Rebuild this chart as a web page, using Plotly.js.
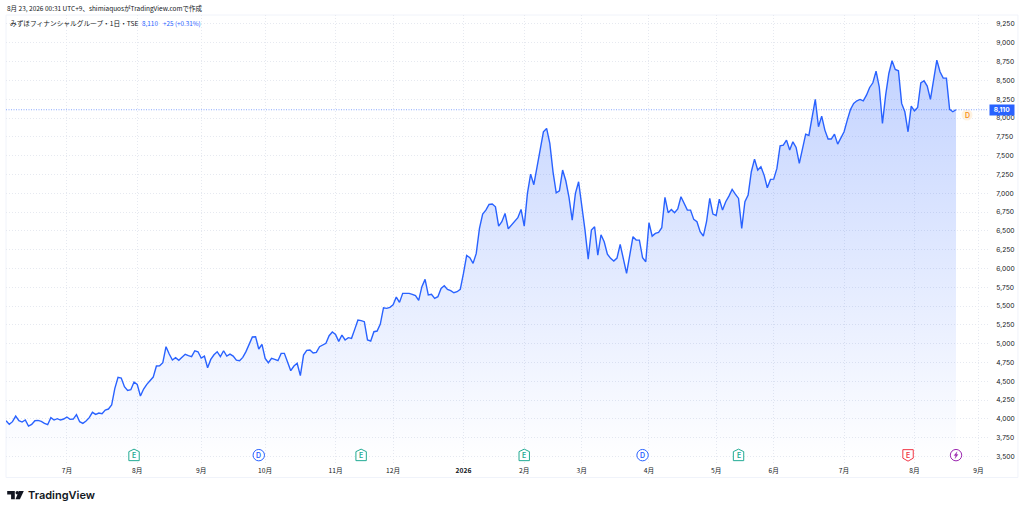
<!DOCTYPE html>
<html><head><meta charset="utf-8">
<script src="https://cdn.plot.ly/plotly-3.0.1.min.js"></script>
<style>html,body{margin:0;padding:0;background:#fff}</style></head>
<body><div id="chart" style="width:1024px;height:512px"></div>
<script>
const closes = [3976,3927,3963,4038,3976,3958,3985,3905,3927,3976,3980,3967,3941,3923,4016,3985,4003,3985,3998,4025,3994,3998,4056,3963,3941,3972,4016,4087,4060,4078,4069,4118,4131,4184,4406,4552,4543,4428,4379,4388,4490,4459,4304,4397,4459,4508,4556,4703,4707,4747,4960,4862,4782,4813,4778,4818,4858,4840,4827,4906,4893,4809,4835,4680,4791,4853,4893,4827,4906,4835,4862,4835,4782,4773,
4818,4894,4996,5089,5093,4929,4991,4805,4747,4805,4792,4774,4871,4871,4756,4641,4703,4739,4575,4849,4911,4916,4876,4885,4960,4987,5004,5106,5155,5124,5031,5115,5049,5080,5071,5190,5314,5306,5292,5049,5035,5159,5168,5261,5478,5470,5483,5518,5620,5549,5669,5669,5669,5656,5638,5576,5758,5855,5647,5656,5602,5625,
5735,5770,5722,5704,5677,5691,5722,5934,6174,6143,6067,6200,6532,6723,6776,6851,6856,6820,6563,6621,6732,6528,6577,6621,6674,6785,6563,6998,7254,7113,7352,7551,7817,7861,7662,7285,7006,7033,7308,7166,6944,6643,6998,7153,6842,6510,6125,6510,6555,6178,6448,6355,6191,6134,6098,6138,6320,6134,5934,6178,6422,6377,6377,6143,6089,6608,6430,6466,6479,6541,6944,6741,
6785,6741,6790,6953,6865,6776,6776,6652,6621,6488,6431,6621,6931,6723,6705,6922,6776,6887,6962,7051,6989,6931,6533,6887,6976,7286,7454,7308,7352,7241,7073,7184,7188,7330,7631,7640,7706,7574,7684,7609,7396,
7596,7786,7768,8016,8247,7884,8025,7839,7720,7720,7786,7653,7737,7817,7972,8114,8194,8229,8247,8229,8304,8406,8468,8623,8415,7928,8304,8592,8761,8645,8628,8194,8083,7817,8158,8096,8140,8468,8495,8424,8247,8526,8770,8615,8530,8530,8114,8083,8110];
const tradingDays = closes.map((_, i) => i);
const monthTickDays = [19,41,61,81,103,121,143,162,180,201,222,240,262,284,304];
const monthLabels = ['7月','8月','9月','10月','11月','12月','<b>2026</b>','2月','3月','4月','5月','6月','7月','8月','9月'];
const priceTicks = [3500,3750,4000,4250,4500,4750,5000,5250,5500,5750,6000,6250,6500,6750,7000,7250,7500,7750,8000,8250,8500,8750,9000,9250];
const priceLabels = ['3,500','3,750','4,000','4,250','4,500','4,750','5,000','5,250','5,500','5,750','6,000','6,250','6,500','6,750','7,000','7,250','7,500','7,750','8,000','8,250','8,500','8,750','9,000','9,250'];
const lastPrice = 8110;
const eventDays = [40,79,111,162,199,229,282,297];
const eventKinds = ['E','D','E','E','D','E','R','S'];
const createdText = '8月 23, 2026 00:31 UTC+9、shimiaquosがTradingView.comで作成';
const symbolText = 'みずほフィナンシャルグループ・1日・TSE';
const changeText = '+25 (+0.31%)';

const JP = '"Noto Sans CJK JP","Noto Sans",sans-serif';
const TXT = '#131722', BLUE = '#2962ff', GREEN = '#22ab94', RED = '#f23645', PURPLE = '#9c27b0', GRID = '#e6e9f0';
const eventY = 3518;
const colorOf = {E:GREEN, D:BLUE, R:RED, S:PURPLE};
const shapes = [
  {type:'rect', xref:'paper', yref:'paper', x0:0, x1:1.0305, y0:-0.0324, y1:1, line:{color:'#f0f3fa', width:1}, layer:'below'},
  {type:'line', xref:'paper', yref:'y', x0:0, x1:1, y0:lastPrice, y1:lastPrice, line:{color:BLUE, width:1, dash:'1px,1.5px'}, opacity:0.55}
];
const annos = [];
const txt = (x, yPx, text, color, size, anchor) => annos.push({xref:'paper', yref:'paper', x:(x-5.5)/982.5, y:(463-yPx)/448, text,
  showarrow:false, xanchor:anchor||'left', yanchor:'middle', font:{family:JP, size, color}});
eventDays.forEach((d, i) => {
  const k = eventKinds[i], c = colorOf[k];
  const common = {xref:'x', yref:'y', xsizemode:'pixel', ysizemode:'pixel', xanchor:d, yanchor:eventY, fillcolor:'rgba(255,255,255,0.9)', line:{color:c, width:1}, layer:'above'};
  if (k === 'E') shapes.push({...common, type:'path', path:'M-5.2,-5.5 L5.2,-5.5 L5.2,3.5 L0,6 L-5.2,3.5 Z'});
  else if (k === 'R') shapes.push({...common, type:'path', path:'M-5.2,5.5 L5.2,5.5 L5.2,-3 L0,-6 L-5.2,-3 Z'});
  else shapes.push({...common, type:'circle', x0:-5.7, x1:5.7, y0:-5.7, y1:5.7});
  if (k === 'S') shapes.push({...common, fillcolor:c, line:{color:c, width:0.3}, type:'path', path:'M1,3.4 L-2,-0.4 L-0.3,-0.4 L-1,-3.4 L2,0.6 L0.3,0.6 Z'});
  else annos.push({xref:'x', yref:'y', x:d, y:eventY, text:k === 'R' ? 'E' : k, showarrow:false, xanchor:'center', yanchor:'middle', font:{family:'Inter,sans-serif', size:7, color:c, weight:600}});
});
annos.push({xref:'paper', yref:'y', x:(967-5.5)/982.5, y:8040, text:'D', showarrow:false, xanchor:'center', yanchor:'middle', font:{family:'Inter,sans-serif', size:7, color:'#f7931a', weight:600}});
shapes.push({type:'circle', xref:'paper', yref:'y', xsizemode:'pixel', ysizemode:'pixel', xanchor:(967-5.5)/982.5, yanchor:8040, x0:-5.5, x1:5.5, y0:-5.5, y1:5.5, fillcolor:'rgba(255,152,0,0.12)', line:{width:0}, layer:'below'});
annos.push({xref:'paper', yref:'y', x:(1002-5.5)/982.5, y:lastPrice, text:'<b>8,110</b>', showarrow:false, xanchor:'center', yanchor:'middle', bgcolor:BLUE, width:24, height:9.5, borderpad:0, font:{family:'Inter,sans-serif', size:6.6, color:'#fff'}});
txt(4.5, 7.7, createdText, TXT, 6.5);
txt(8, 23, symbolText, TXT, 6.7);
txt(140, 23, '8,110', BLUE, 6.4);
txt(161, 23, changeText, BLUE, 6.3);
const lg = {xref:'paper', yref:'paper', xsizemode:'pixel', ysizemode:'pixel', xanchor:0, yanchor:0, type:'path', fillcolor:'#131722', line:{width:0}};
const P = (pts) => 'M' + pts.map(p => (p[0]-5.5) + ',' + (463-p[1])).join(' L') + ' Z';
shapes.push({...lg, path:P([[6.7,491],[14.3,491],[14.3,499.3],[10.6,499.3],[10.6,494.6],[6.7,494.6]])});
shapes.push({...lg, path:P([[18.4,491],[23.3,491],[19.4,499.3],[15,499.3]])});
shapes.push({type:'circle', xref:'paper', yref:'paper', xsizemode:'pixel', ysizemode:'pixel', xanchor:0, yanchor:0, x0:14.6-5.5-1.1+1.5, x1:18.2-5.5-1.1+1.5-0.1, y0:463-494.6, y1:463-491, fillcolor:'#131722', line:{width:0}});
annos.push({xref:'paper', yref:'paper', x:(25.5-5.5)/982.5, y:(463-495)/448, text:'TradingView', showarrow:false, xanchor:'left', yanchor:'middle', font:{family:'Inter,sans-serif', size:11, color:'#131722', weight:600}});

const data = [{
  x: tradingDays, y: closes, type:'scatter', mode:'lines',
  line:{color:BLUE, width:1.4, shape:'linear'}, fill:'tozeroy',
  fillgradient:{type:'vertical', start:3414, stop:8780, colorscale:[[0,'rgba(41,98,255,0.0)'],[1,'rgba(41,98,255,0.28)']]},
  hoverinfo:'skip', showlegend:false
}];
const layout = {
  width:1024, height:512, autosize:false, paper_bgcolor:'#fff', plot_bgcolor:'#fff', showlegend:false,
  margin:{l:5.5, r:36, t:15, b:49, pad:0},
  xaxis:{range:[-0.03,307], tickmode:'array', tickvals:monthTickDays, ticktext:monthLabels, showgrid:true, gridcolor:GRID, griddash:'1px,2px', gridwidth:1,
    zeroline:false, showline:false, ticks:'outside', ticklen:1, tickcolor:'rgba(0,0,0,0)', tickfont:{family:JP, size:6.7, color:TXT}},
  yaxis:{side:'right', range:[3413.6,9369.5], tickmode:'array', tickvals:priceTicks, ticktext:priceLabels, showgrid:true, gridcolor:GRID, griddash:'1px,2px', gridwidth:1,
    zeroline:false, showline:false, ticks:'outside', ticklen:6, tickcolor:'rgba(0,0,0,0)', tickfont:{family:'Inter,sans-serif', size:6.7, color:TXT}},
  shapes, annotations:annos
};
Plotly.newPlot('chart', data, layout, {displayModeBar:false, staticPlot:true});
</script></body></html>
